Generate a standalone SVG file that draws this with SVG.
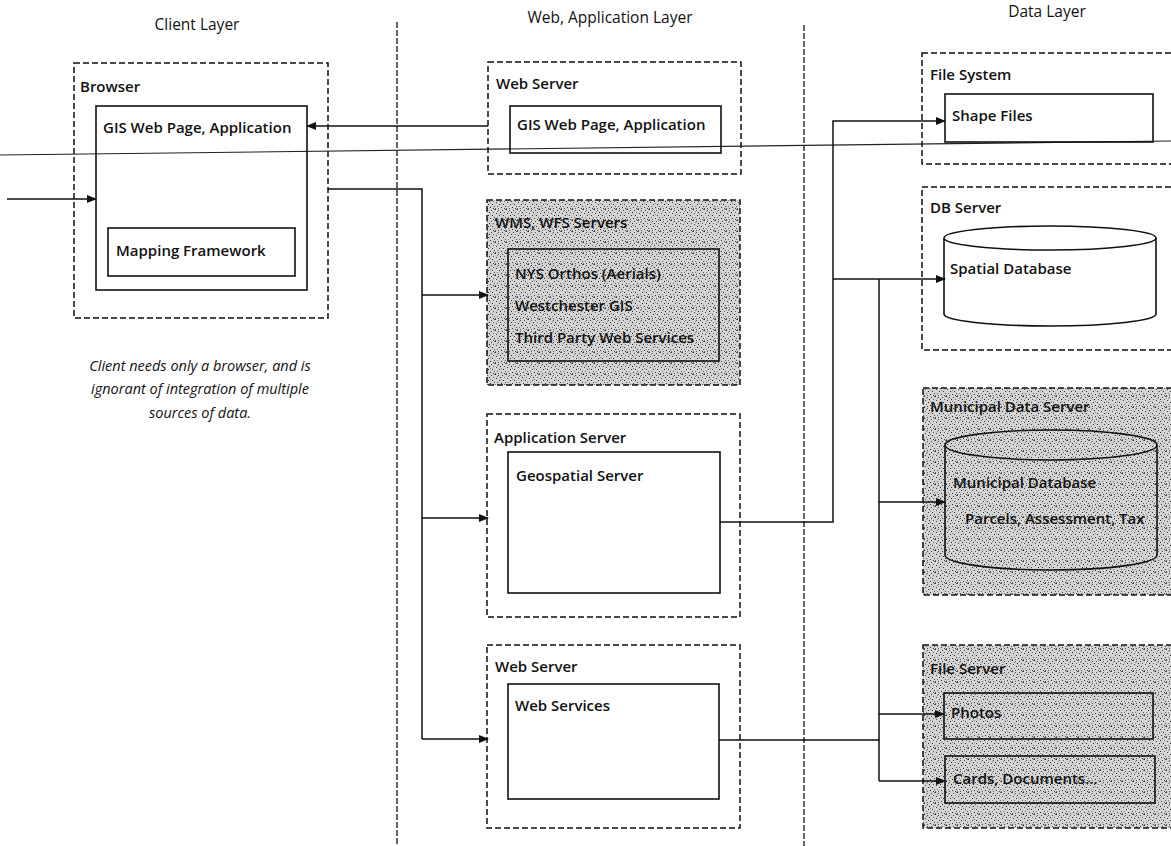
<svg xmlns="http://www.w3.org/2000/svg" width="1171" height="846" viewBox="0 0 1171 846">
<defs>
<pattern id="stip" width="11" height="11" patternUnits="userSpaceOnUse">
<rect width="11" height="11" fill="#d4d4d4"/>
<rect x="0" y="0" width="1" height="1" fill="#333"/>
<rect x="3" y="1" width="1" height="1" fill="#555"/>
<rect x="7" y="1" width="1" height="1" fill="#444"/>
<rect x="5" y="3" width="1" height="1" fill="#222"/>
<rect x="9" y="3" width="1" height="1" fill="#666"/>
<rect x="1" y="4" width="1" height="1" fill="#444"/>
<rect x="4" y="6" width="1" height="1" fill="#333"/>
<rect x="8" y="6" width="1" height="1" fill="#333"/>
<rect x="10" y="8" width="1" height="1" fill="#555"/>
<rect x="2" y="8" width="1" height="1" fill="#777"/>
<rect x="6" y="9" width="1" height="1" fill="#333"/>
<rect x="0" y="10" width="1" height="1" fill="#666"/>
<rect x="2" y="2" width="1" height="1" fill="#888"/>
<rect x="9" y="10" width="1" height="1" fill="#444"/>
<rect x="6" y="5" width="1" height="1" fill="#888"/>
<rect x="10" y="0" width="1" height="1" fill="#666"/>
<rect x="3" y="10" width="1" height="1" fill="#555"/>
</pattern>
<marker id="ah" markerWidth="10" markerHeight="8" refX="9" refY="4" orient="auto" markerUnits="userSpaceOnUse">
<path d="M0,0 L10,4 L0,8 Z" fill="#111"/>
</marker>
</defs>
<style>
text{font-family:"Open Sans","Liberation Sans",sans-serif;font-size:15px;font-weight:600;fill:#111}
.t{font-size:15.5px;font-weight:400}
.cap{font-style:italic;font-size:14.5px;font-weight:400}
.dash{fill:none;stroke:#111;stroke-width:1.5;stroke-dasharray:6 3}
.dashs{fill:url(#stip);stroke:#111;stroke-width:1.5;stroke-dasharray:6 3}
.box{fill:none;stroke:#111;stroke-width:1.6}
.boxs{fill:url(#stip);stroke:#111;stroke-width:1.6}
.div{stroke:#111;stroke-width:1.3;stroke-dasharray:6 2}
.ln{fill:none;stroke:#111;stroke-width:1.5}
</style>
<rect width="1171" height="846" fill="#fff"/>

<g id="dividers">
<line class="div" x1="397" y1="22" x2="397" y2="846"/>
<line class="div" x1="804" y1="25" x2="804" y2="846"/>
<line x1="0" y1="155" x2="1171" y2="141" stroke="#222" stroke-width="1.1"/>
</g>

<g id="titles">
<text class="t" x="197" y="30" text-anchor="middle">Client Layer</text>
<text class="t" x="610" y="23" text-anchor="middle">Web, Application Layer</text>
<text class="t" x="1047" y="17" text-anchor="middle">Data Layer</text>
</g>

<g id="browser">
<rect class="dash" x="74" y="63" width="254" height="255"/>
<text x="80" y="92">Browser</text>
<rect class="box" x="96" y="106" width="211" height="184"/>
<text x="103" y="133">GIS Web Page, Application</text>
</g>
<g id="mapping">
<rect class="box" x="108" y="228" width="187" height="48"/>
<text x="116" y="256">Mapping Framework</text>
</g>

<g id="caption">
<text class="cap" x="200" y="371" text-anchor="middle">Client needs only a browser, and is</text>
<text class="cap" x="200" y="394" text-anchor="middle">ignorant of integration of multiple</text>
<text class="cap" x="200" y="418" text-anchor="middle">sources of data.</text>
</g>

<g id="webserver1">
<rect class="dash" x="488" y="62" width="253" height="112"/>
<text x="496" y="89">Web Server</text>
<rect class="box" x="510" y="106" width="211" height="47"/>
<text x="517" y="130">GIS Web Page, Application</text>
</g>

<g id="wms">
<rect class="dashs" x="487" y="200" width="253" height="185"/>
<text x="495" y="228">WMS, WFS Servers</text>
<rect class="boxs" x="508" y="249" width="211" height="112"/>
<text x="515" y="279">NYS  Orthos (Aerials)</text>
<text x="515" y="311">Westchester GIS</text>
<text x="515" y="343">Third Party Web Services</text>
</g>

<g id="appserver">
<rect class="dash" x="487" y="414" width="253" height="203"/>
<text x="494" y="443">Application Server</text>
<rect class="box" x="508" y="452" width="212" height="141"/>
<text x="516" y="481">Geospatial Server</text>
</g>

<g id="webserver2">
<rect class="dash" x="487" y="645" width="253" height="183"/>
<text x="495" y="672">Web Server</text>
<rect class="box" x="508" y="684" width="211" height="115"/>
<text x="515" y="711">Web Services</text>
</g>

<g id="filesystem">
<rect class="dash" x="922" y="53" width="260" height="111"/>
<text x="930" y="80">File System</text>
<rect class="box" x="945" y="94" width="208" height="48"/>
<text x="952" y="121">Shape Files</text>
</g>

<g id="dbserver">
<rect class="dash" x="922" y="187" width="260" height="163"/>
<text x="930" y="213">DB Server</text>
<path class="box" fill="#fff" d="M944,238 A106,12 0 0 1 1156,238 L1156,314 A106,12 0 0 1 944,314 Z"/>
<path class="ln" d="M944,238 A106,12 0 0 0 1156,238"/>
<text x="950" y="274">Spatial Database</text>
</g>

<g id="municipal">
<rect class="dashs" x="923" y="388" width="260" height="207"/>
<text x="930" y="412">Municipal Data Server</text>
<path class="boxs" d="M945,445 A106,15 0 0 1 1157,445 L1157,555 A106,15 0 0 1 945,555 Z"/>
<path class="ln" d="M945,445 A106,15 0 0 0 1157,445"/>
<text x="953" y="488">Municipal Database</text>
<text x="965" y="524">Parcels, Assessment, Tax</text>
</g>

<g id="fileserver">
<rect class="dashs" x="923" y="645" width="260" height="183"/>
<text x="930" y="674">File Server</text>
<rect class="boxs" x="944" y="693" width="209" height="46"/>
<text x="951" y="718">Photos</text>
<rect class="boxs" x="945" y="756" width="210" height="47"/>
<text x="953" y="784">Cards, Documents...</text>
</g>

<g id="connectors">
<line class="ln" x1="7" y1="199" x2="96" y2="199" marker-end="url(#ah)"/>
<line class="ln" x1="488" y1="126" x2="307" y2="126" marker-end="url(#ah)"/>
<path class="ln" d="M328,189 H422 V739"/>
<line class="ln" x1="422" y1="295" x2="488" y2="295" marker-end="url(#ah)"/>
<line class="ln" x1="422" y1="518" x2="488" y2="518" marker-end="url(#ah)"/>
<line class="ln" x1="422" y1="739" x2="488" y2="739" marker-end="url(#ah)"/>
<path class="ln" d="M720,522 H833 V121 H945" marker-end="url(#ah)"/>
<line class="ln" x1="833" y1="279" x2="945" y2="279" marker-end="url(#ah)"/>
<path class="ln" d="M719,740 H879 V279"/>
<path class="ln" d="M879,740 V781"/>
<line class="ln" x1="879" y1="502" x2="945" y2="502" marker-end="url(#ah)"/>
<line class="ln" x1="879" y1="714" x2="944" y2="714" marker-end="url(#ah)"/>
<line class="ln" x1="879" y1="781" x2="945" y2="781" marker-end="url(#ah)"/>
</g>
</svg>
